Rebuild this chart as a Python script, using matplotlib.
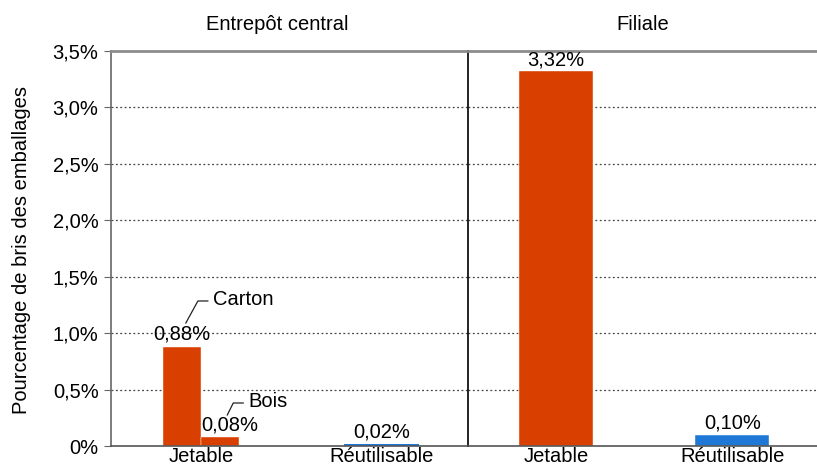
import matplotlib.pyplot as plt
from matplotlib.ticker import FuncFormatter

plt.rcParams['font.family'] = ['Liberation Sans', 'DejaVu Sans']

# data
panels = ['Entrepôt central', 'Filiale']
categories = ['Jetable', 'Réutilisable']
central_jetable = [0.88, 0.08]          # Carton, Bois
central_jetable_names = ['Carton', 'Bois']
central_reutilisable = 0.02
filiale_values = [3.32, 0.10]

orange = '#D94000'
blue = '#1F78D6'
fs = 14.5


def pct(v, decimals=2):
    return ('%.*f%%' % (decimals, v)).replace('.', ',')


fig = plt.figure(figsize=(8.17, 4.70), dpi=100)
W, H = 817.0, 470.0
bottom, top = (H - 446) / H, (H - 51) / H
ax1 = fig.add_axes([111 / W, bottom, (468 - 111) / W, top - bottom])
ax2 = fig.add_axes([468 / W, bottom, (817 - 468) / W, top - bottom])

x = [0, 1]
for ax in (ax1, ax2):
    ax.set_xlim(-0.5, 1.48)
    ax.set_ylim(0, 3.5)
    ax.set_yticks([0, 0.5, 1, 1.5, 2, 2.5, 3, 3.5])
    for yv in [0.5, 1, 1.5, 2, 2.5, 3]:
        ax.axhline(yv, color='#444444', linestyle=(0, (1.5, 2)), linewidth=0.9, zorder=0)
    ax.set_xticks(x)
    ax.set_xticklabels(categories, fontsize=fs)
    ax.tick_params(axis='x', length=0, pad=1)
    ax.spines['right'].set_visible(False)
    ax.spines['top'].set_color('#8c8c8c')
    ax.spines['top'].set_linewidth(2)
    ax.spines['bottom'].set_color('#555555')
    ax.spines['bottom'].set_linewidth(1.2)

# panel 1
ax1.spines['left'].set_color('#666666')
ax1.spines['left'].set_linewidth(1.2)
ax1.yaxis.set_major_formatter(FuncFormatter(
    lambda v, p: '0%' if v == 0 else ('%.1f%%' % v).replace('.', ',')))
ax1.tick_params(axis='y', labelsize=fs, length=5, color='#666666', pad=4)

w = 0.21
offsets = [-w / 2, w / 2]
for off, val in zip(offsets, central_jetable):
    ax1.bar(x[0] + off, val, width=w, color=orange, edgecolor='white', linewidth=0.3)
ax1.bar(x[1], central_reutilisable, width=2 * w, color=blue, linewidth=0)

ax1.text(x[0] + offsets[0], central_jetable[0] + 0.03, pct(central_jetable[0]),
         ha='center', va='bottom', fontsize=fs)
ax1.text(x[0] + offsets[1] + 0.055, central_jetable[1] + 0.02, pct(central_jetable[1]),
         ha='center', va='bottom', fontsize=fs)
ax1.text(x[1], central_reutilisable + 0.02, pct(central_reutilisable),
         ha='center', va='bottom', fontsize=fs)

# leader lines for Carton / Bois: (start dx, start dy, rise x, rise y, run)
leaders = [(0.02, 0.21, 0.067, 0.195, 0.055), (0.04, 0.195, 0.033, 0.106, 0.055)]
for off, val, name, (sx, sy, rx, ry, run) in zip(offsets, central_jetable,
                                                  central_jetable_names, leaders):
    x0 = x[0] + off + sx
    y0 = val + sy
    ax1.plot([x0, x0 + rx, x0 + rx + run], [y0, y0 + ry, y0 + ry],
             color='#222222', linewidth=0.9)
    ax1.text(x0 + rx + run + 0.03, y0 + ry + 0.01, name, ha='left', va='center', fontsize=fs)

# panel 2
ax2.spines['left'].set_color('#111111')
ax2.spines['left'].set_linewidth(1.3)
ax2.tick_params(axis='y', left=False, labelleft=False)
ax2.bar(x, filiale_values, width=2 * w, color=[orange, blue], edgecolor='white', linewidth=0.3)
for xi, v in zip(x, filiale_values):
    ax2.text(xi, v + 0.02, pct(v), ha='center', va='bottom', fontsize=fs)

# panel titles
ax1.text(0.465, 1.066, panels[0], transform=ax1.transAxes, ha='center', va='center', fontsize=fs)
ax2.text(0.5, 1.066, panels[1], transform=ax2.transAxes, ha='center', va='center', fontsize=fs)

fig.text(22 / W, (H - 250) / H, 'Pourcentage de bris des emballages', rotation=90,
         ha='center', va='center', fontsize=fs)

fig.savefig('out.png', dpi=100)
